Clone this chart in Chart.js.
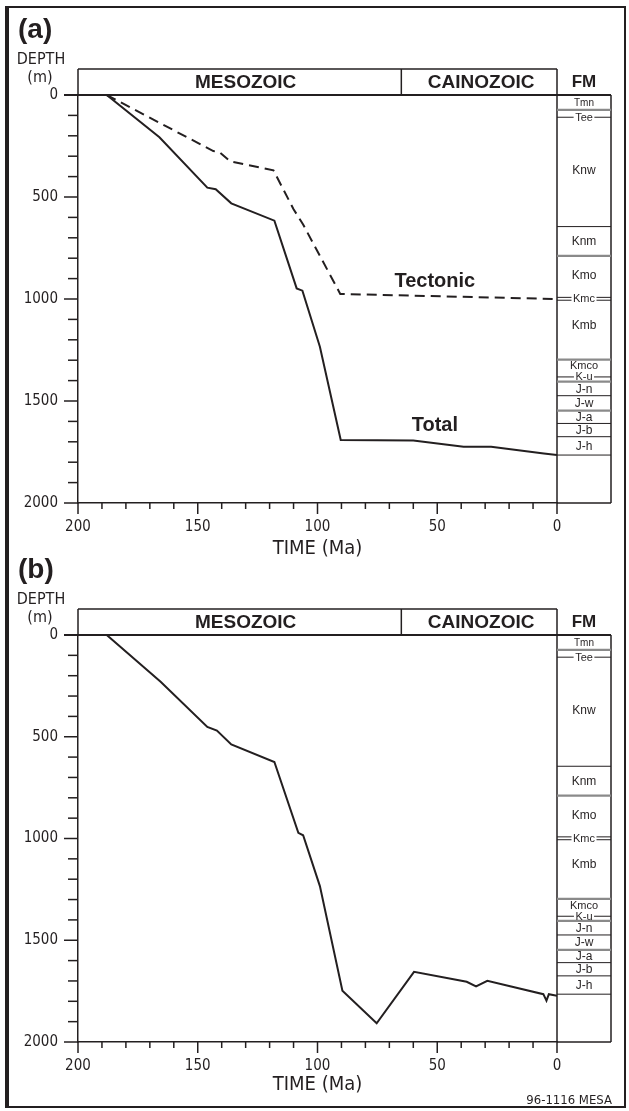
<!DOCTYPE html>
<html><head><meta charset="utf-8">
<script src="https://cdn.jsdelivr.net/npm/chart.js@4.4.1/dist/chart.umd.min.js"></script>
<style>
html,body{margin:0;padding:0;background:#fff;}
#wrap{position:relative;width:629px;height:1111px;overflow:hidden;background:#fff;}
#frame{position:absolute;left:5px;top:6px;width:615px;height:1098px;border:2px solid #231f20;border-left-width:4px;}
canvas{position:absolute;left:0;}
</style></head><body>
<div id="wrap">
<div id="frame"></div>
<canvas id="chartA" width="629" height="565" style="top:0px"></canvas>
<canvas id="chartB" width="629" height="571" style="top:540px"></canvas>
</div>
<script>
// ---------- DATA ----------
// Panel (a): total subsidence and tectonic subsidence, age (Ma) vs depth (m)
const totalAgeA   = [188, 166, 146, 142.5, 136, 118, 108.7, 106.3, 99, 90.3, 60, 39, 27.5, 5.5, 0];
const totalDepthA = [0, 207, 454, 462, 531, 616, 948, 959, 1234, 1691, 1694, 1724, 1724, 1757, 1765];
const tectAgeA    = [188, 143.5, 141, 136.5, 118.4, 110, 106, 90.5, 0];
const tectDepthA  = [0, 275, 280, 325, 369, 560, 635, 975, 1000];
// Panel (b): burial curve
const totalAgeB   = [188, 165.5, 146, 142, 136, 118, 108, 106, 99, 89.6, 75.3, 59.7, 37.7, 33.8, 29.1, 5.7, 4.4, 3.4, 0];
const totalDepthB = [0, 230, 452, 470, 538, 624, 972, 984, 1234, 1748, 1908, 1655, 1704, 1727, 1699, 1765, 1797, 1765, 1773];
// Eras
const eraNames = ['MESOZOIC', 'CAINOZOIC'];
const eraBounds = [200, 65, 0];
// Formations column
const fmNames      = ['Tmn','Tee','Knw','Knm','Kmo','Kmc','Kmb','Kmco','K-u','J-n','J-w','J-a','J-b','J-h'];
const fmLabelDepth = [38, 109, 368, 716, 885, 999, 1127, 1327, 1382, 1440, 1510, 1578, 1642, 1720];
const fmBoundaries = [73, 645, 789, 1297, 1405, 1474, 1547, 1610, 1675, 1765];
const fmGrey       = [73, 789, 1297, 1405, 1547];
const fmOnLine     = {'Tee':[109], 'Kmc':[992,1006], 'K-u':[1382]};
// Axis
const timeMin = 0, timeMax = 200, depthMin = 0, depthMax = 2000;

// ---------- DRAW ----------
const C = '#231f20';
const NARROW = "'Liberation Sans Narrow','Arial Narrow','DejaVu Sans Condensed',sans-serif";
const SANS = "'Liberation Sans',Arial,Helvetica,sans-serif";

function pts(ages, depths){ return ages.map((a,i)=>({x:a, y:depths[i]})); }

function decor(panel){
  return {
    id: 'decor' + panel,
    afterDraw(chart){
      const ctx = chart.ctx, xs = chart.scales.x, ys = chart.scales.y;
      const L = xs.getPixelForValue(timeMax), R = xs.getPixelForValue(timeMin);
      const T = ys.getPixelForValue(depthMin), B = ys.getPixelForValue(depthMax);
      const hTop = T - 26, colR = R + 54;
      ctx.save();
      ctx.strokeStyle = C; ctx.fillStyle = C; ctx.lineWidth = 1.5;
      const line = (x1,y1,x2,y2)=>{ ctx.beginPath(); ctx.moveTo(x1,y1); ctx.lineTo(x2,y2); ctx.stroke(); };
      // header box
      line(L, hTop, R, hTop); line(L, hTop, L, T); line(R, hTop, R, T);
      const K = xs.getPixelForValue(eraBounds[1]);
      line(K, hTop, K, T);
      ctx.lineWidth = 2;
      line(L - 14, T, colR, T);
      ctx.lineWidth = 1.5;
      ctx.textAlign = 'center'; ctx.textBaseline = 'middle';
      ctx.font = 'bold 19px ' + SANS;
      const eraShift = [6, 2];
      for (let i = 0; i < eraNames.length; i++) {
        const a = xs.getPixelForValue(eraBounds[i]), b = xs.getPixelForValue(eraBounds[i+1]);
        ctx.fillText(eraNames[i], (a+b)/2 + eraShift[i], hTop + 13.5);
      }
      ctx.font = 'bold 17px ' + SANS;
      ctx.fillText('FM', (R+colR)/2, hTop + 13.5);
      // ticks
      for (let d = depthMin; d <= depthMax; d += 100) {
        const y = ys.getPixelForValue(d), len = d % 500 === 0 ? 14 : 10;
        line(L - len, y, L, y);
      }
      for (let a = timeMin; a <= timeMax; a += 10) {
        const x = xs.getPixelForValue(a), len = a % 50 === 0 ? 11 : 6;
        line(x, B, x, B + len);
      }
      // formation column
      line(colR, T, colR, B); line(R, T, R, B); line(R, B, colR, B);
      fmBoundaries.forEach(d=>{
        const y = ys.getPixelForValue(d);
        if (fmGrey.includes(d)) { ctx.strokeStyle = '#8a8a8a'; ctx.lineWidth = 2.2; }
        else { ctx.strokeStyle = C; ctx.lineWidth = 1; }
        line(R, y, colR, y);
      });
      ctx.strokeStyle = C; ctx.lineWidth = 1;
      fmNames.forEach((n,i)=>{
        const y = ys.getPixelForValue(fmLabelDepth[i]);
        const sz = n === 'Tmn' ? 10 : (n === 'Kmco' || n === 'K-u' || n === 'Tee' || n === 'Kmc') ? 11 : 12;
        ctx.font = sz + 'px ' + SANS;
        const w = ctx.measureText(n).width;
        if (fmOnLine[n]) {
          fmOnLine[n].forEach(d=>{
            const yy = ys.getPixelForValue(d);
            line(R, yy, (R+colR)/2 - w/2 - 1.5, yy);
            line((R+colR)/2 + w/2 + 1.5, yy, colR, yy);
          });
        }
        ctx.fillStyle = C;
        ctx.fillText(n, (R+colR)/2, y + 0.5);
      });
      // panel label & depth title
      ctx.textAlign = 'left';
      ctx.font = 'bold 28px ' + SANS;
      ctx.fillText(panel === 'a' ? '(a)' : '(b)', 18, 30);
      ctx.textAlign = 'center';
      ctx.font = '16px ' + NARROW;
      ctx.fillText('DEPTH', 41, 60);
      ctx.fillText('(m)', 40, 78);
      if (panel === 'a') {
        ctx.font = 'bold 20px ' + SANS;
        ctx.fillText('Tectonic', xs.getPixelForValue(51), ys.getPixelForValue(913));
        ctx.fillText('Total', xs.getPixelForValue(51), ys.getPixelForValue(1620));
      } else {
        ctx.textAlign = 'right';
        ctx.font = '13px ' + NARROW;
        ctx.fillText('96-1116 MESA', 612, 561);
      }
      ctx.restore();
    }
  };
}

function makeChart(id, panel, datasets, axisH, titlePad){
  const tickFont = {family: NARROW, size: 15};
  return new Chart(document.getElementById(id), {
    type: 'line',
    data: { datasets },
    options: {
      responsive: false, animation: false, devicePixelRatio: 1,
      layout: { padding: { left: 0, right: 72, top: 95, bottom: 0 } },
      plugins: { legend: {display:false}, tooltip: {enabled:false} },
      elements: { point: { radius: 0 }, line: { tension: 0 } },
      scales: {
        x: {
          type: 'linear', min: timeMin, max: timeMax, reverse: true,
          afterFit: s => { s.height = axisH; },
          grid: { display: false, drawTicks: false },
          border: { display: true, color: C, width: 1.5 },
          ticks: { stepSize: 50, color: C, font: tickFont, padding: 15, maxRotation: 0, callback: v => String(v) },
          title: { display: true, text: 'TIME (Ma)', color: C, font: {family: NARROW, size: 20}, padding: {top: 0, bottom: titlePad} }
        },
        y: {
          type: 'linear', min: depthMin, max: depthMax, reverse: true,
          afterFit: s => { s.width = 78; },
          grid: { display: false, drawTicks: false },
          border: { display: true, color: C, width: 1.5 },
          ticks: { stepSize: 500, color: C, font: tickFont, padding: 20, callback: v => String(v) }
        }
      }
    },
    plugins: [decor(panel)]
  });
}

const solid = (data)=>({ data, borderColor: C, borderWidth: 2, fill: false, pointRadius: 0 });
const dashed = (data)=>({ data, borderColor: C, borderWidth: 2, borderDash: [10,6], fill: false, pointRadius: 0 });

makeChart('chartA', 'a', [ solid(pts(totalAgeA, totalDepthA)), dashed(pts(tectAgeA, tectDepthA)) ], 62, 4);
makeChart('chartB', 'b', [ solid(pts(totalAgeB, totalDepthB)) ], 69, 14);
</script>
</body></html>
